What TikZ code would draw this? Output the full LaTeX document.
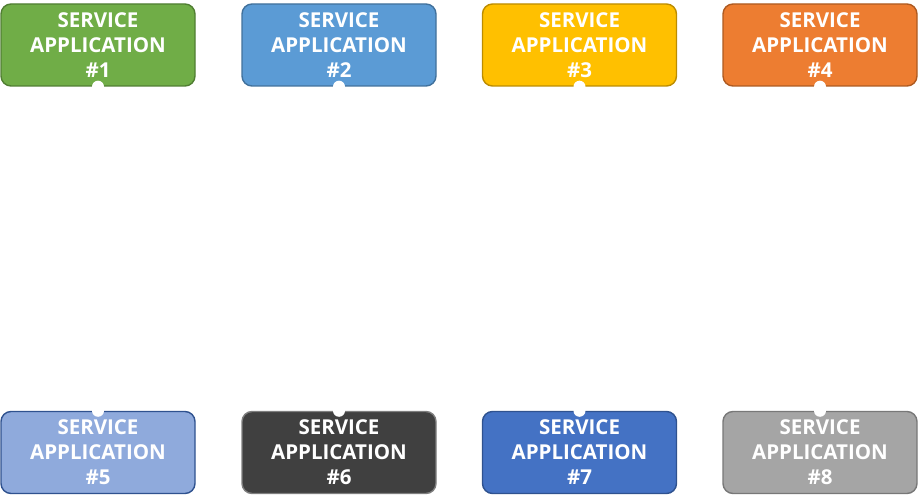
\documentclass[tikz,border=0pt]{standalone}
\usepackage{fontspec}
\setmainfont{Open Sans}
\definecolor{g1}{HTML}{70AD47}\definecolor{g1b}{HTML}{507E32}
\definecolor{b2}{HTML}{5B9BD5}\definecolor{b2b}{HTML}{41719C}
\definecolor{y3}{HTML}{FFC000}\definecolor{y3b}{HTML}{BC8C00}
\definecolor{o4}{HTML}{ED7D31}\definecolor{o4b}{HTML}{AE5A21}
\definecolor{l5}{HTML}{8FAADC}\definecolor{l5b}{HTML}{2F528F}
\definecolor{d6}{HTML}{404040}\definecolor{d6b}{HTML}{7F7F7F}
\definecolor{m7}{HTML}{4472C4}\definecolor{m7b}{HTML}{2F528F}
\definecolor{s8}{HTML}{A5A5A5}\definecolor{s8b}{HTML}{787878}
\begin{document}
\begin{tikzpicture}[x=1pt,y=-1pt,
  svc/.style={rounded corners=10pt, line width=1.4pt, minimum width=194pt, minimum height=82pt,
    inner sep=0pt, align=center, text=white, font=\fontsize{20.5}{25}\selectfont\bfseries},
  dot/.style={circle, fill=white, inner sep=0pt, minimum size=12pt}]
\useasboundingbox (0,0) rectangle (918,502);
\node[svc, fill=g1, draw=g1b] (s1) at (98,45) {SERVICE\\APPLICATION\\\#1};
\node[svc, fill=b2, draw=b2b] (s2) at (339,45) {SERVICE\\APPLICATION\\\#2};
\node[svc, fill=y3, draw=y3b] (s3) at (579.5,45) {SERVICE\\APPLICATION\\\#3};
\node[svc, fill=o4, draw=o4b] (s4) at (820,45) {SERVICE\\APPLICATION\\\#4};
\node[svc, fill=l5, draw=l5b] (s5) at (98,452.5) {SERVICE\\APPLICATION\\\#5};
\node[svc, fill=d6, draw=d6b] (s6) at (339,452.5) {SERVICE\\APPLICATION\\\#6};
\node[svc, fill=m7, draw=m7b] (s7) at (579.5,452.5) {SERVICE\\APPLICATION\\\#7};
\node[svc, fill=s8, draw=s8b] (s8) at (820,452.5) {SERVICE\\APPLICATION\\\#8};
\foreach \i in {1,2,3,4} \node[dot] (d\i) at (s\i.south) {};
\foreach \i in {5,6,7,8} \node[dot] (d\i) at (s\i.north) {};
\end{tikzpicture}
\end{document}
